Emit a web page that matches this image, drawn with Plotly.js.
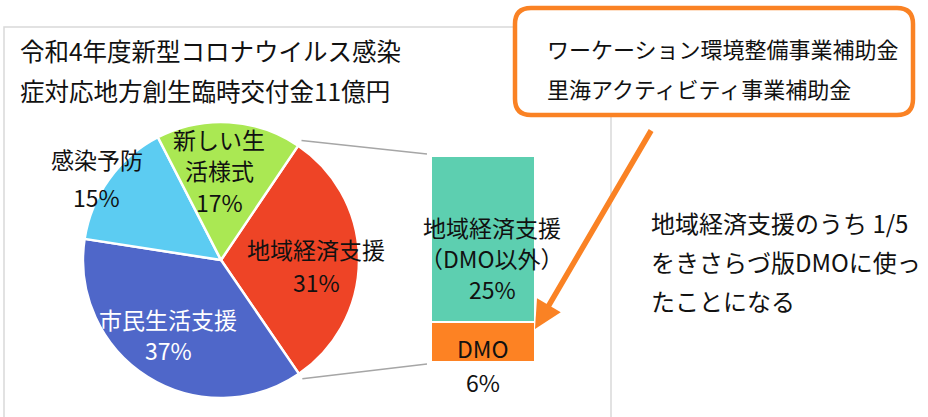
<!DOCTYPE html>
<html>
<head>
<meta charset="utf-8">
<script src="https://cdn.plot.ly/plotly-3.0.1.min.js"></script>
<style>
  html, body { margin: 0; padding: 0; background: #fff; }
  #chart { width: 928px; height: 417px; }
</style>
</head>
<body>
<div id="chart"></div>
<script>
// 交付金の使途（%）
const pieLabels = ['地域経済支援', '市民生活支援', '感染予防', '新しい生活様式'];
const pieShown  = [['地域経済支援'], ['市民生活支援'], ['感染予防'], ['新しい生', '活様式']];
const pieValues = [31, 37, 15, 17];

// 地域経済支援の内訳（%）— 下から積み上げ
const barLabels = ['DMO', '地域経済支援（DMO以外）'];
const barShown  = [['DMO'], ['地域経済支援', '（DMO以外）']];
const barValues = [6, 25];

const titleLines = ['令和4年度新型コロナウイルス感染', '症対応地方創生臨時交付金11億円'];
const boxLines   = ['ワーケーション環境整備事業補助金', '里海アクティビティ事業補助金'];
const noteLines  = ['地域経済支援のうち 1/5', 'をきさらづ版DMOに使っ', 'たことになる'];

// ---- layout geometry (pixels) ----
const W = 928, H = 417;
const px = x => x / W;
const py = y => 1 - y / H;
const FONT = "'Noto Sans CJK JP', 'Noto Sans', sans-serif";
const INK = '#111111';

const cx = 221, cy = 260, R = 138;     // pie centre / radius
const startAngle = 34;                  // first slice starts here, clockwise from 12 o'clock
const barLeft = 431, barRight = 535, barBottom = 362, barTop = 156;

const pieColors = ['#EE4426', '#4F67C9', '#5CCCF2', '#AAE853'];
const barColors = ['#FD8223', '#5DCFB0'];
const pieTextColors = [INK, '#FFFFFF', INK, INK];
// label placement: fraction of radius, small angle nudge and line pitch per slice
const pieLabelRadius = [0.69, 0.66, 1.08, 0.65];
const pieLabelNudge  = [3.4, 3, -2.4, -4.6];
const pieLinePitch   = [33, 31.5, 38, 31.5];

const pieTotal = pieValues.reduce((a, b) => a + b, 0);
const barTotal = barValues.reduce((a, b) => a + b, 0);

// slice boundary angles
const bounds = [];
let acc = 0;
pieValues.forEach(v => {
  const a0 = startAngle + acc / pieTotal * 360;
  acc += v;
  const a1 = startAngle + acc / pieTotal * 360;
  bounds.push([a0, a1]);
});
const polar = (deg, r) => {
  const t = deg * Math.PI / 180;
  return [cx + r * Math.sin(t), cy - r * Math.cos(t)];
};

const traces = [
  {
    type: 'pie',
    labels: pieLabels,
    values: pieValues,
    sort: false,
    direction: 'clockwise',
    rotation: startAngle,
    textinfo: 'none',
    hoverinfo: 'skip',
    marker: { colors: pieColors, line: { color: '#FFFFFF', width: 2.5 } },
    domain: { x: [px(cx - R), px(cx + R)], y: [py(cy + R), py(cy - R)] },
    showlegend: false
  }
];
barValues.forEach((v, i) => {
  traces.push({
    type: 'bar',
    x: [0],
    y: [v],
    name: barLabels[i],
    width: 1,
    marker: { color: barColors[i], line: { color: '#FFFFFF', width: 2 } },
    hoverinfo: 'skip',
    showlegend: false,
    xaxis: 'x',
    yaxis: 'y'
  });
});

const annotations = [];

// stack of text lines centred on a point
function addBlock(lines, base, pitch, size, color, extra) {
  const n = lines.length;
  lines.forEach((t, k) => {
    annotations.push(Object.assign({
      showarrow: false, xanchor: 'center', yanchor: 'middle', text: t,
      font: { family: FONT, size: size, color: color }
    }, base(k - (n - 1) / 2, pitch), extra || {}));
  });
}

// pie labels
pieValues.forEach((v, i) => {
  const mid = (bounds[i][0] + bounds[i][1]) / 2 + pieLabelNudge[i];
  const p = polar(mid, R * pieLabelRadius[i]);
  addBlock(pieShown[i].concat([v + '%']),
    (o, pitch) => ({ xref: 'paper', yref: 'paper', x: px(p[0]), y: py(p[1] + o * pitch) }),
    pieLinePitch[i], 23, pieTextColors[i]);
});

// bar labels
addBlock(barShown[1].concat([barValues[1] + '%']),
  (o, pitch) => ({ xref: 'x', yref: 'y', x: 0, y: barValues[0] + barValues[1] / 2, yshift: -19 - o * pitch }),
  31, 23, INK, { xshift: 9 });
addBlock(barShown[0].concat([barValues[0] + '%']),
  (o, pitch) => ({ xref: 'x', yref: 'y', x: 0, y: barValues[0] / 2, yshift: -23 - o * pitch }),
  34, 23, INK);

// title
titleLines.forEach((t, i) => {
  annotations.push({
    xref: 'paper', yref: 'paper', x: px(18), y: py(50 + i * 40),
    xanchor: 'left', yanchor: 'middle', showarrow: false, text: t,
    font: { family: FONT, size: 24.5, color: INK }
  });
});
// boxed note
boxLines.forEach((t, i) => {
  annotations.push({
    xref: 'paper', yref: 'paper', x: px(545), y: py(48 + i * 40),
    xanchor: 'left', yanchor: 'middle', showarrow: false, text: t,
    font: { family: FONT, size: 22, color: INK }
  });
});
// side note
noteLines.forEach((t, i) => {
  annotations.push({
    xref: 'paper', yref: 'paper', x: px(649), y: py(222 + i * 39),
    xanchor: 'left', yanchor: 'middle', showarrow: false, text: t,
    font: { family: FONT, size: 24, color: INK }
  });
});
// arrow from the box to the DMO segment
annotations.push({
  xref: 'paper', yref: 'paper', x: px(535), y: py(329),
  axref: 'pixel', ayref: 'pixel', ax: 652 - 535, ay: 129 - 329,
  text: '', showarrow: true, arrowhead: 2, arrowsize: 1, arrowwidth: 5.5,
  arrowcolor: '#FA8224'
});

// connector lines from the red slice to the bar
const topPt = polar(bounds[0][0], R + 6);
const botPt = polar(bounds[0][1], R + 6);

// rounded rectangle path
const bx0 = 515, by0 = 8, bx1 = 913, by1 = 115, rr = 16;
const P = (x, y) => px(x) + ',' + py(y);
const boxPath =
  'M' + P(bx0 + rr, by0) + ' L' + P(bx1 - rr, by0) +
  ' Q' + P(bx1, by0) + ' ' + P(bx1, by0 + rr) +
  ' L' + P(bx1, by1 - rr) +
  ' Q' + P(bx1, by1) + ' ' + P(bx1 - rr, by1) +
  ' L' + P(bx0 + rr, by1) +
  ' Q' + P(bx0, by1) + ' ' + P(bx0, by1 - rr) +
  ' L' + P(bx0, by0 + rr) +
  ' Q' + P(bx0, by0) + ' ' + P(bx0 + rr, by0) + ' Z';

const shapes = [
  { type: 'rect', xref: 'paper', yref: 'paper', layer: 'below',
    x0: px(4), x1: px(611), y0: py(430), y1: py(27),
    line: { color: '#D9D9D9', width: 1.5 }, fillcolor: 'rgba(0,0,0,0)' },
  { type: 'line', xref: 'paper', yref: 'paper',
    x0: px(topPt[0]), y0: py(topPt[1]), x1: px(barLeft - 4), y1: py(barTop - 2),
    line: { color: '#A6A6A6', width: 1.5 } },
  { type: 'line', xref: 'paper', yref: 'paper',
    x0: px(botPt[0]), y0: py(botPt[1]), x1: px(barLeft - 4), y1: py(barBottom + 2),
    line: { color: '#A6A6A6', width: 1.5 } },
  { type: 'path', xref: 'paper', yref: 'paper', path: boxPath,
    fillcolor: '#FFFFFF', line: { color: '#FA8224', width: 4.5 } }
];

const layout = {
  width: W, height: H,
  margin: { l: 0, r: 0, t: 0, b: 0 },
  paper_bgcolor: '#FFFFFF', plot_bgcolor: 'rgba(0,0,0,0)',
  showlegend: false,
  barmode: 'stack', bargap: 0,
  xaxis: { domain: [px(barLeft), px(barRight)], range: [-0.5, 0.5], visible: false, fixedrange: true },
  yaxis: { domain: [py(barBottom), py(barTop)], range: [0, barTotal], visible: false, fixedrange: true },
  annotations: annotations,
  shapes: shapes,
  font: { family: FONT, color: INK }
};

Plotly.newPlot('chart', traces, layout, { displayModeBar: false, staticPlot: true });
</script>
</body>
</html>
